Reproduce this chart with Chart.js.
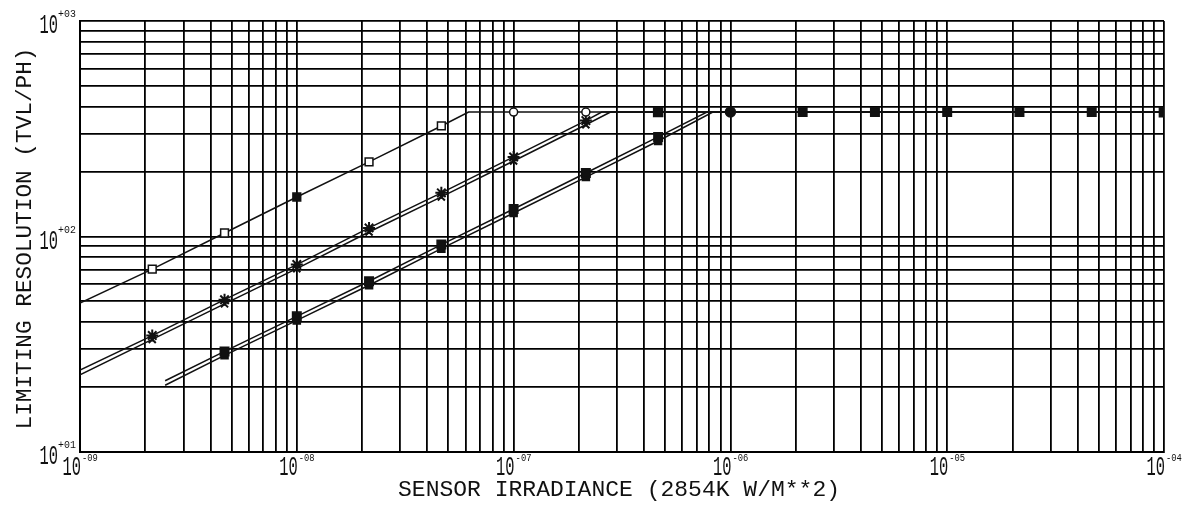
<!DOCTYPE html>
<html>
<head>
<meta charset="utf-8">
<script src="https://cdn.jsdelivr.net/npm/chart.js@4.4.1/dist/chart.umd.min.js"></script>
<style>
  html, body { margin: 0; padding: 0; background: #fff; }
  canvas { display: block; }
</style>
</head>
<body>
<canvas id="chart" width="1182" height="505"></canvas>
<script>
// ---- data (log-log) ----
const flatY = 378;

// single line, open squares
const xA = [1e-9, 2.154e-9, 4.642e-9, 1e-8, 2.154e-8, 4.642e-8, 6.2e-8, 1e-7, 2.154e-7, 1e-4];
const yA = [49.1, 70.6, 103.8, 152.5, 221.8, 325.8, flatY, flatY, flatY, flatY];

// middle pair (stars)
const xB1 = [1e-9, 2.154e-9, 4.642e-9, 1e-8, 2.154e-8, 4.642e-8, 1e-7, 2.154e-7, 2.55e-7, 4.642e-7, 1e-4];
const yB1 = [24.0, 34.7, 50.9, 74.1, 109.6, 159.4, 234, 345, flatY, flatY, flatY];
const xB2 = [1e-9, 2.154e-9, 4.642e-9, 1e-8, 2.154e-8, 4.642e-8, 1e-7, 2.154e-7, 2.8e-7, 1e-4];
const yB2 = [22.8, 33.3, 48.7, 70.9, 104.9, 152.6, 224, 330, flatY, flatY];

// lower pair (filled squares)
const xC1 = [2.47e-9, 4.642e-9, 1e-8, 2.154e-8, 4.642e-8, 1e-7, 2.154e-7, 4.642e-7, 7.8e-7,
             1e-6, 2.154e-6, 4.642e-6, 1e-5, 2.154e-5, 4.642e-5, 1e-4];
const yC1 = [21.4, 29.3, 42.6, 62.0, 91.7, 134.2, 197.0, 289.7, flatY,
             flatY, flatY, flatY, flatY, flatY, flatY, flatY];
const xC2 = [2.47e-9, 4.642e-9, 1e-8, 2.154e-8, 4.642e-8, 1e-7, 2.154e-7, 4.642e-7, 8.3e-7, 1e-4];
const yC2 = [20.4, 28.1, 40.8, 59.4, 87.8, 128.5, 188.7, 277.4, flatY, flatY];

// axes
const xDecades = [1e-9, 1e-8, 1e-7, 1e-6, 1e-5, 1e-4];
const xExpLabels = ['-09', '-08', '-07', '-06', '-05', '-04'];
const yDecades = [1e1, 1e2, 1e3];
const yExpLabels = ['+01', '+02', '+03'];
const xTitle = 'SENSOR IRRADIANCE (2854K W/M**2)';
const yTitle = 'LIMITING RESOLUTION (TVL/PH)';

const INK = '#111';
const FONT = '"Liberation Mono", "DejaVu Sans Mono", monospace';

function toPoints(xs, ys) {
  return xs.map((x, i) => ({ x: x, y: ys[i] }));
}

// every 1..9 x decade gridline
function logGrid(decades) {
  const out = [];
  decades.forEach((d, i) => {
    if (i === decades.length - 1) { out.push(d); return; }
    for (let m = 1; m < 10; m++) out.push(d * m);
  });
  return out;
}

const lineBase = {
  showLine: true,
  borderColor: INK,
  borderWidth: 1.5,
  pointBorderColor: INK,
  pointBorderWidth: 1.5,
  tension: 0
};

const datasets = [
  Object.assign({}, lineBase, {
    label: 'A',
    data: toPoints(xA, yA),
    pointStyle: ['circle', 'rect', 'rect', 'rect', 'rect', 'rect', 'circle', 'circle', 'circle', 'circle'],
    pointRadius: [0, 5.5, 5.5, 5.5, 5.5, 5.5, 0, 4, 4, 0],
    pointBackgroundColor: ['#fff', '#fff', '#fff', INK, '#fff', '#fff', '#fff', '#fff', '#fff', '#fff']
  }),
  Object.assign({}, lineBase, {
    label: 'B1',
    data: toPoints(xB1, yB1),
    pointStyle: ['star', 'star', 'star', 'star', 'star', 'star', 'star', 'star', 'star', 'rect', 'star'],
    pointRadius: [0, 6, 6, 6, 6, 6, 6, 6, 0, 6, 0],
    pointBorderWidth: 2,
    pointBackgroundColor: INK
  }),
  Object.assign({}, lineBase, {
    label: 'B2',
    data: toPoints(xB2, yB2),
    pointStyle: 'crossRot',
    pointRadius: [0, 5, 5, 5, 5, 5, 5, 5, 0, 0],
    pointBorderWidth: 2,
    pointBackgroundColor: INK
  }),
  Object.assign({}, lineBase, {
    label: 'C1',
    data: toPoints(xC1, yC1),
    pointStyle: ['rect', 'rect', 'rect', 'rect', 'rect', 'rect', 'rect', 'rect', 'rect',
                 'circle', 'rect', 'rect', 'rect', 'rect', 'rect', 'rect'],
    pointRadius: [0, 6, 6, 6, 6, 6, 6, 6, 0, 5, 6, 6, 6, 6, 6, 6.5],
    pointBackgroundColor: INK
  }),
  Object.assign({}, lineBase, {
    label: 'C2',
    data: toPoints(xC2, yC2),
    pointStyle: 'rect',
    pointRadius: [0, 5, 5, 5, 5, 5, 5, 5, 0, 0],
    pointBackgroundColor: INK
  })
];

function condensed(ctx, text, x, y, size, sx, align) {
  ctx.save();
  ctx.translate(x, y);
  ctx.scale(sx, 1);
  ctx.font = size + 'px ' + FONT;
  ctx.textAlign = align;
  ctx.textBaseline = 'alphabetic';
  ctx.fillText(text, 0, 0);
  ctx.restore();
}

function fitted(ctx, text, cx, cy, width, size, angle) {
  ctx.save();
  ctx.translate(cx, cy);
  ctx.rotate(angle);
  ctx.font = size + 'px ' + FONT;
  const w = ctx.measureText(text).width;
  ctx.scale(width / w, 1);
  ctx.textAlign = 'center';
  ctx.textBaseline = 'alphabetic';
  ctx.fillText(text, 0, 0);
  ctx.restore();
}

const plotterLabels = {
  id: 'plotterLabels',
  afterDraw(chart) {
    const ctx = chart.ctx;
    const area = chart.chartArea;
    const xs = chart.scales.x;
    const ys = chart.scales.y;
    ctx.save();
    ctx.fillStyle = INK;

    xDecades.forEach((v, i) => {
      const px = xs.getPixelForValue(v);
      condensed(ctx, '10', px + 1, area.bottom + 23, 28, 0.55, 'right');
      condensed(ctx, xExpLabels[i], px + 2, area.bottom + 9, 11, 0.8, 'left');
    });

    yDecades.forEach((v, i) => {
      const py = ys.getPixelForValue(v);
      condensed(ctx, '10', area.left - 22, py + 12, 28, 0.55, 'right');
      condensed(ctx, yExpLabels[i], area.left - 22, py - 4, 11, 0.9, 'left');
    });

    fitted(ctx, xTitle, (area.left + area.right) / 2 - 3, area.bottom + 44, 442, 22, 0);
    fitted(ctx, yTitle, 31, (area.top + area.bottom) / 2 + 2, 382, 22, -Math.PI / 2);
    ctx.restore();
  }
};

const gridStyle = {
  color: '#000',
  lineWidth: 1.8,
  drawTicks: false
};

new Chart(document.getElementById('chart'), {
  type: 'scatter',
  data: { datasets: datasets },
  options: {
    responsive: false,
    animation: false,
    layout: { padding: { left: 80, right: 18, top: 21, bottom: 53 } },
    plugins: {
      legend: { display: false },
      tooltip: { enabled: false }
    },
    scales: {
      x: {
        type: 'logarithmic',
        min: 1e-9,
        max: 1e-4,
        afterBuildTicks: (scale) => {
          scale.ticks = logGrid(xDecades).map(v => ({ value: v }));
        },
        ticks: { display: false },
        grid: gridStyle,
        border: { color: '#000', width: 2 }
      },
      y: {
        type: 'logarithmic',
        min: 1e1,
        max: 1e3,
        afterBuildTicks: (scale) => {
          scale.ticks = logGrid(yDecades).map(v => ({ value: v }));
        },
        ticks: { display: false },
        grid: gridStyle,
        border: { color: '#000', width: 2 }
      }
    }
  },
  plugins: [plotterLabels]
});
</script>
</body>
</html>
